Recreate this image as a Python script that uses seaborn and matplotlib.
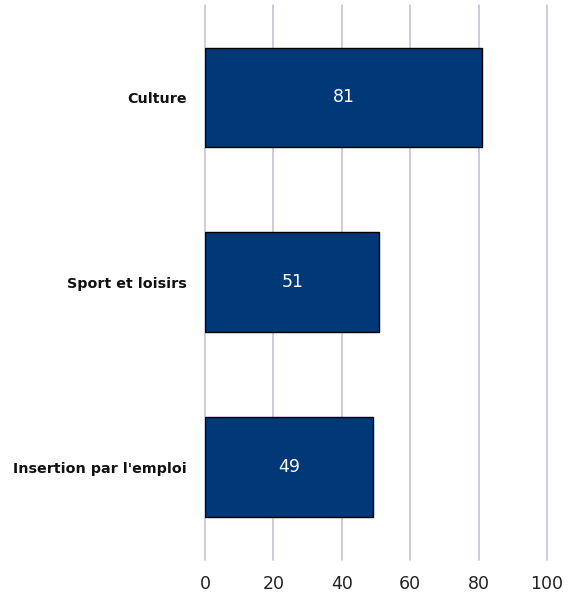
import matplotlib
matplotlib.use("Agg")
import matplotlib.pyplot as plt
import seaborn as sns
import pandas as pd

categories = ["Culture", "Sport et loisirs", "Insertion par l'emploi"]
values = [81, 51, 49]
x_ticks = [0, 20, 40, 60, 80, 100]

sns.set_style("white")
plt.rcParams['font.family'] = ['DejaVu Sans']

df = pd.DataFrame({"cat": categories, "val": values})

fig = plt.figure(figsize=(5.73, 5.96), dpi=100)
ax = fig.add_axes([205/573, 1 - 559.5/596, (547-205)/573, (559.5-5)/596])

sns.barplot(data=df, x="val", y="cat", orient="h", color="#003878",
            width=0.54, edgecolor="black", linewidth=1.0, saturation=1, ax=ax, zorder=3)

ax.set_xlim(0, 100)
ax.set_ylim(2.5, -0.5)
ax.set_xticks(x_ticks)
ax.set_xticklabels([str(t) for t in x_ticks], fontsize=12.5, color="#222222")
ax.tick_params(axis="x", length=0, pad=11)
ax.tick_params(axis="y", length=0, pad=13)
for lab in ax.get_yticklabels():
    lab.set_fontsize(10.3)
    lab.set_fontweight("bold")
    lab.set_color("#111111")
ax.xaxis.grid(True, color="#C4C4DA", linewidth=1.2, zorder=0)
ax.yaxis.grid(False)
for gl in ax.get_xgridlines():
    gl.set_clip_on(False)
for s in ax.spines.values():
    s.set_visible(False)
ax.set_xlabel("")
ax.set_ylabel("")

for c in ax.containers:
    ax.bar_label(c, labels=[str(v) for v in values], label_type="center",
                 color="white", fontsize=12.5)

fig.savefig("out.png", dpi=100)
